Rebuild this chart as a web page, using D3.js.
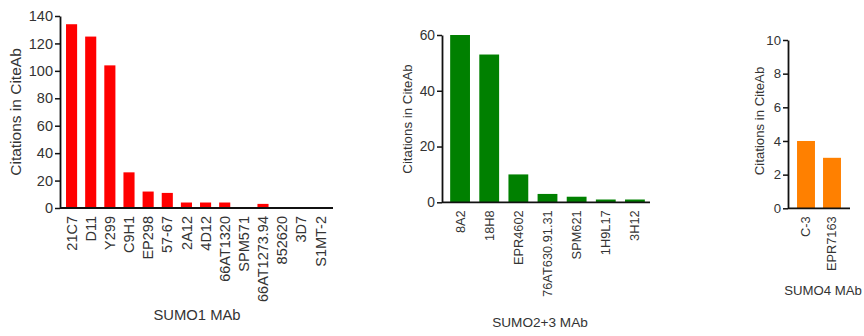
<!DOCTYPE html>
<html>
<head>
<meta charset="utf-8">
<script src="https://cdn.jsdelivr.net/npm/d3@7"></script>
<style>
  html, body { margin: 0; padding: 0; background: #fff; }
  svg { display: block; font-family: "Liberation Sans", Arial, sans-serif; }
</style>
</head>
<body>
<svg id="chart" width="864" height="336"></svg>
<script>
// SUMO1 monoclonal antibodies
const sumo1Clones = ["21C7", "D11", "Y299", "C9H1", "EP298", "57-67", "2A12", "4D12", "66AT1320", "SPM571", "66AT1273.94", "852620", "3D7", "S1MT-2"];
const sumo1Citations = [134, 125, 104, 26, 12, 11, 4, 4, 4, 0, 3, 0, 0, 0];
const sumo1Ticks = [0, 20, 40, 60, 80, 100, 120, 140];

// SUMO2+3 monoclonal antibodies
const sumo23Clones = ["8A2", "18H8", "EPR4602", "76AT630.91.31", "SPM621", "1H9L17", "3H12"];
const sumo23Citations = [60, 53, 10, 3, 2, 1, 1];
const sumo23Ticks = [0, 20, 40, 60];

// SUMO4 monoclonal antibodies
const sumo4Clones = ["C-3", "EPR7163"];
const sumo4Citations = [4, 3];
const sumo4Ticks = [0, 2, 4, 6, 8, 10];

const svg = d3.select("#chart");
const textColor = "#333";

function panel(cfg) {
  const g = svg.append("g");
  const x = d3.scaleBand().domain(cfg.cats).range(cfg.xRange).paddingInner(cfg.pad).paddingOuter(cfg.pad / 2);
  const y = d3.scaleLinear().domain([0, d3.max(cfg.ticks)]).range(cfg.yRange);

  // bars
  g.selectAll("rect.bar").data(cfg.vals).join("rect")
    .attr("class", "bar")
    .attr("x", (d, i) => x(cfg.cats[i]))
    .attr("width", x.bandwidth())
    .attr("y", d => y(d))
    .attr("height", d => y(0) - y(d))
    .attr("fill", cfg.color);

  // y axis
  const ya = d3.axisLeft(y).tickValues(cfg.ticks).tickSize(5).tickPadding(2).tickSizeOuter(0);
  const yg = g.append("g").attr("transform", `translate(${cfg.axisX},0)`).call(ya);
  yg.select(".domain").attr("stroke", "#111").attr("stroke-width", 1.8);
  yg.selectAll(".tick line").attr("stroke", "#111").attr("stroke-width", 1.5);
  yg.selectAll(".tick text").attr("fill", textColor).attr("font-size", cfg.tickFont)
    .style("font-family", "Liberation Sans, Arial, sans-serif");

  // x axis baseline
  g.append("line")
    .attr("x1", cfg.axisX).attr("x2", cfg.axisEnd)
    .attr("y1", y(0)).attr("y2", y(0))
    .attr("stroke", "#111").attr("stroke-width", 1.8);

  // rotated category labels
  g.selectAll("text.cat").data(cfg.cats).join("text")
    .attr("class", "cat")
    .attr("transform", d => `translate(${x(d) + x.bandwidth() / 2},${y(0) + 8}) rotate(-90)`)
    .attr("text-anchor", "end")
    .attr("dy", "0.35em")
    .attr("font-size", cfg.catFont)
    .attr("fill", textColor)
    .text(d => d);

  // axis titles
  g.append("text")
    .attr("transform", `translate(${cfg.yTitleX},${cfg.yTitleY}) rotate(-90)`)
    .attr("text-anchor", "middle")
    .attr("dy", "0.35em")
    .attr("font-size", cfg.yTitleFont)
    .attr("fill", textColor)
    .text("Citations in CiteAb");

  g.append("text")
    .attr("x", cfg.xTitleX).attr("y", cfg.xTitleY)
    .attr("text-anchor", "middle")
    .attr("font-size", cfg.xTitleFont)
    .attr("fill", textColor)
    .text(cfg.xTitle);
}

panel({
  cats: sumo1Clones, vals: sumo1Citations, ticks: sumo1Ticks, color: "#ff0000",
  xRange: [62, 330], pad: 0.42, yRange: [208, 16], axisX: 60, axisEnd: 333,
  tickFont: 14.5, catFont: 14.5, yTitleX: 16, yTitleY: 112, yTitleFont: 15.5,
  xTitle: "SUMO1 MAb", xTitleX: 197, xTitleY: 320, xTitleFont: 14.8
});

panel({
  cats: sumo23Clones, vals: sumo23Citations, ticks: sumo23Ticks, color: "#008000",
  xRange: [445.5, 649.5], pad: 0.32, yRange: [202.3, 35], axisX: 442, axisEnd: 650,
  tickFont: 13.8, catFont: 12.8, yTitleX: 407, yTitleY: 119, yTitleFont: 13.3,
  xTitle: "SUMO2+3 MAb", xTitleX: 540, xTitleY: 327, xTitleFont: 13.6
});

panel({
  cats: sumo4Clones, vals: sumo4Citations, ticks: sumo4Ticks, color: "#ff8000",
  xRange: [793, 845], pad: 0.31, yRange: [208.3, 40], axisX: 788, axisEnd: 850,
  tickFont: 13.2, catFont: 12.8, yTitleX: 759, yTitleY: 121, yTitleFont: 13.2,
  xTitle: "SUMO4 MAb", xTitleX: 823, xTitleY: 295, xTitleFont: 13.2
});
</script>
</body>
</html>
